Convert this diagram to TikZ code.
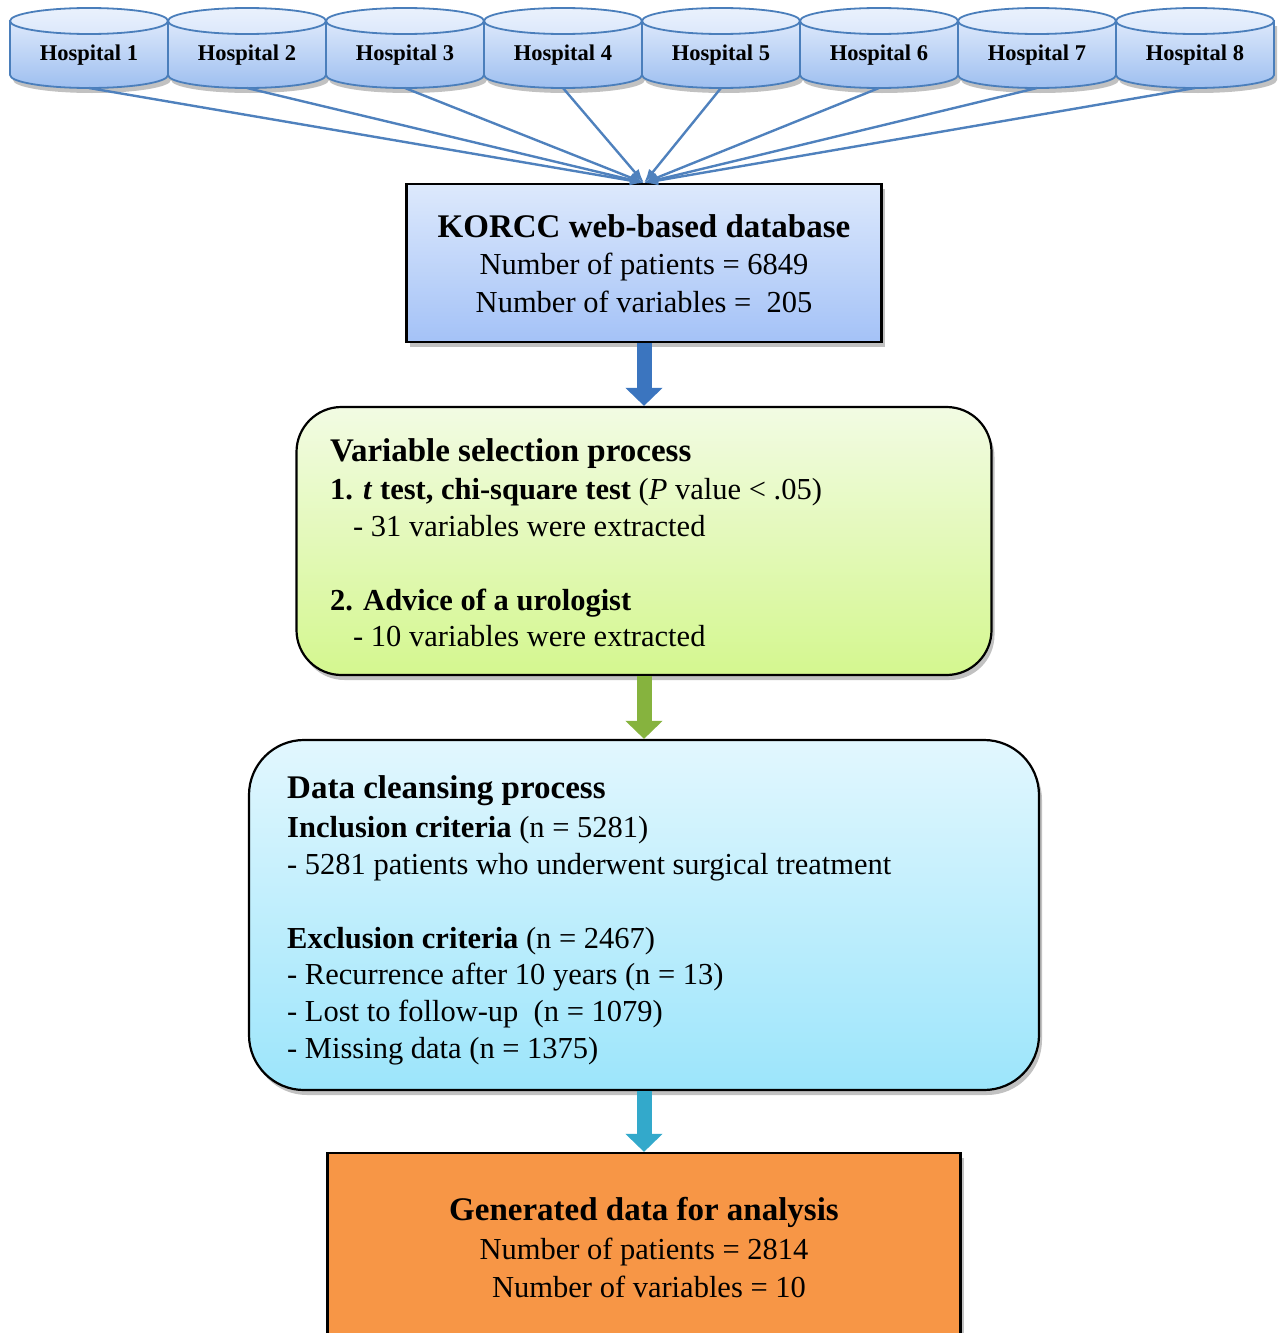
\documentclass[tikz,border=0pt]{standalone}
\usepackage{fontspec}
\setmainfont{Liberation Serif}
\usetikzlibrary{arrows.meta,shadows}
\definecolor{hospT}{HTML}{DCE8FB}
\definecolor{hospB}{HTML}{9EBFF0}
\definecolor{hospE}{HTML}{4A7EBB}
\definecolor{connC}{HTML}{4F81BD}
\definecolor{korT}{HTML}{DDE9FC}
\definecolor{korB}{HTML}{A4C2F7}
\definecolor{selT}{HTML}{F2FBE3}
\definecolor{selB}{HTML}{D4F78F}
\definecolor{clnT}{HTML}{E2F7FE}
\definecolor{clnB}{HTML}{9CE5FB}
\definecolor{genF}{HTML}{F79646}
\definecolor{arrA}{HTML}{3B75BF}
\definecolor{arrB}{HTML}{86B33E}
\definecolor{arrC}{HTML}{33A9CB}
\newcommand\fTitle{\fontsize{33}{38}\selectfont\bfseries}
\newcommand\fBody{\fontsize{30.5}{37}\selectfont}
\newcommand\fHosp{\fontsize{22.5}{26}\selectfont\bfseries}
\begin{document}
\begin{tikzpicture}[x=1pt,y=-1pt,
  myshadow/.style={drop shadow={shadow xshift=3pt,shadow yshift=-5pt,opacity=.35,fill=black!70}},
  boxbase/.style={draw=black,line width=2.2pt,myshadow},
  hosp/.style={inner sep=0pt,font=\fHosp},
  txt/.style={inner sep=0pt,anchor=base west,font=\fBody},
  ctxt/.style={inner sep=0pt,anchor=base,font=\fBody},
  conn/.style={draw=connC,line width=2.4pt,-{Latex[length=14pt,width=10pt]}},
  bigarrow/.style={draw=#1,line width=15pt,-{Triangle[length=18pt,width=36pt]}}
]
\useasboundingbox (0,0) rectangle (1277,1333);
\clip (0,0) rectangle (1277,1333);

% hospitals
\foreach \i in {1,...,8}{
  \pgfmathsetmacro\cx{10+158*(\i-0.5)}
  \shadedraw[top color=hospT,bottom color=hospB,draw=hospE,line width=1.8pt,myshadow]
    (\cx-79,21) -- (\cx-79,75) arc[start angle=180,end angle=0,x radius=79,y radius=13] -- (\cx+79,21) -- cycle;
  \shadedraw[top color=hospT!60!white,bottom color=hospT,draw=hospE,line width=1.8pt]
    (\cx,21) ellipse[x radius=79,y radius=13];
  \node[hosp] (h\i) at (\cx,55) {Hospital \i};
  \coordinate (hb\i) at (\cx,88);
}

% boxes
\node[boxbase,rectangle,top color=korT,bottom color=korB,minimum width=475pt,minimum height=158pt] (kor) at (644,263) {};
\node[boxbase,rectangle,rounded corners=45pt,top color=selT,bottom color=selB,minimum width=695pt,minimum height=268pt] (sel) at (644,541) {};
\node[boxbase,rectangle,rounded corners=55pt,top color=clnT,bottom color=clnB,minimum width=790pt,minimum height=350pt] (cln) at (644,915) {};
\node[boxbase,rectangle,fill=genF,minimum width=633pt,minimum height=192pt] (gen) at (644,1249) {};

% connectors
\foreach \i in {1,...,8}{
  \draw[conn] (hb\i) -- (kor.north);
}
\draw[bigarrow=arrA] (kor.south) -- (sel.north);
\draw[bigarrow=arrB] (sel.south) -- (cln.north);
\draw[bigarrow=arrC] (cln.south) -- (gen.north);

% KORCC text
\node[ctxt,font=\fTitle] (k1) at (644,237) {KORCC web-based database};
\node[ctxt] (k2) at (644,274) {Number of patients = 6849};
\node[ctxt] (k3) at (644,312) {Number of variables =\ \ 205};

% selection text
\node[txt,font=\fTitle] (s1) at (330,461) {Variable selection process};
\node[txt] (s2) at (330,499) {\textbf{1. \textit{t} test, chi-square test} (\textit{P} value < .05)};
\node[txt] (s3) at (353,536) {- 31 variables were extracted};
\node[txt] (s4) at (330,610) {\textbf{2. Advice of a urologist}};
\node[txt] (s5) at (353,646) {- 10 variables were extracted};

% cleansing text
\node[txt,font=\fTitle] (c1) at (287,798) {Data cleansing process};
\node[txt] (c2) at (287,837) {\textbf{Inclusion criteria} (n = 5281)};
\node[txt] (c3) at (287,874) {- 5281 patients who underwent surgical treatment};
\node[txt] (c4) at (287,948) {\textbf{Exclusion criteria} (n = 2467)};
\node[txt] (c5) at (287,984) {- Recurrence after 10 years (n = 13)};
\node[txt] (c6) at (287,1021) {- Lost to follow-up\ \ (n = 1079)};
\node[txt] (c7) at (287,1058) {- Missing data (n = 1375)};

% generated text
\node[ctxt,font=\fTitle] (g1) at (644,1220) {Generated data for analysis};
\node[ctxt] (g2) at (644,1259) {Number of patients = 2814};
\node[ctxt] (g3) at (649,1297) {Number of variables = 10};
\end{tikzpicture}
\end{document}
